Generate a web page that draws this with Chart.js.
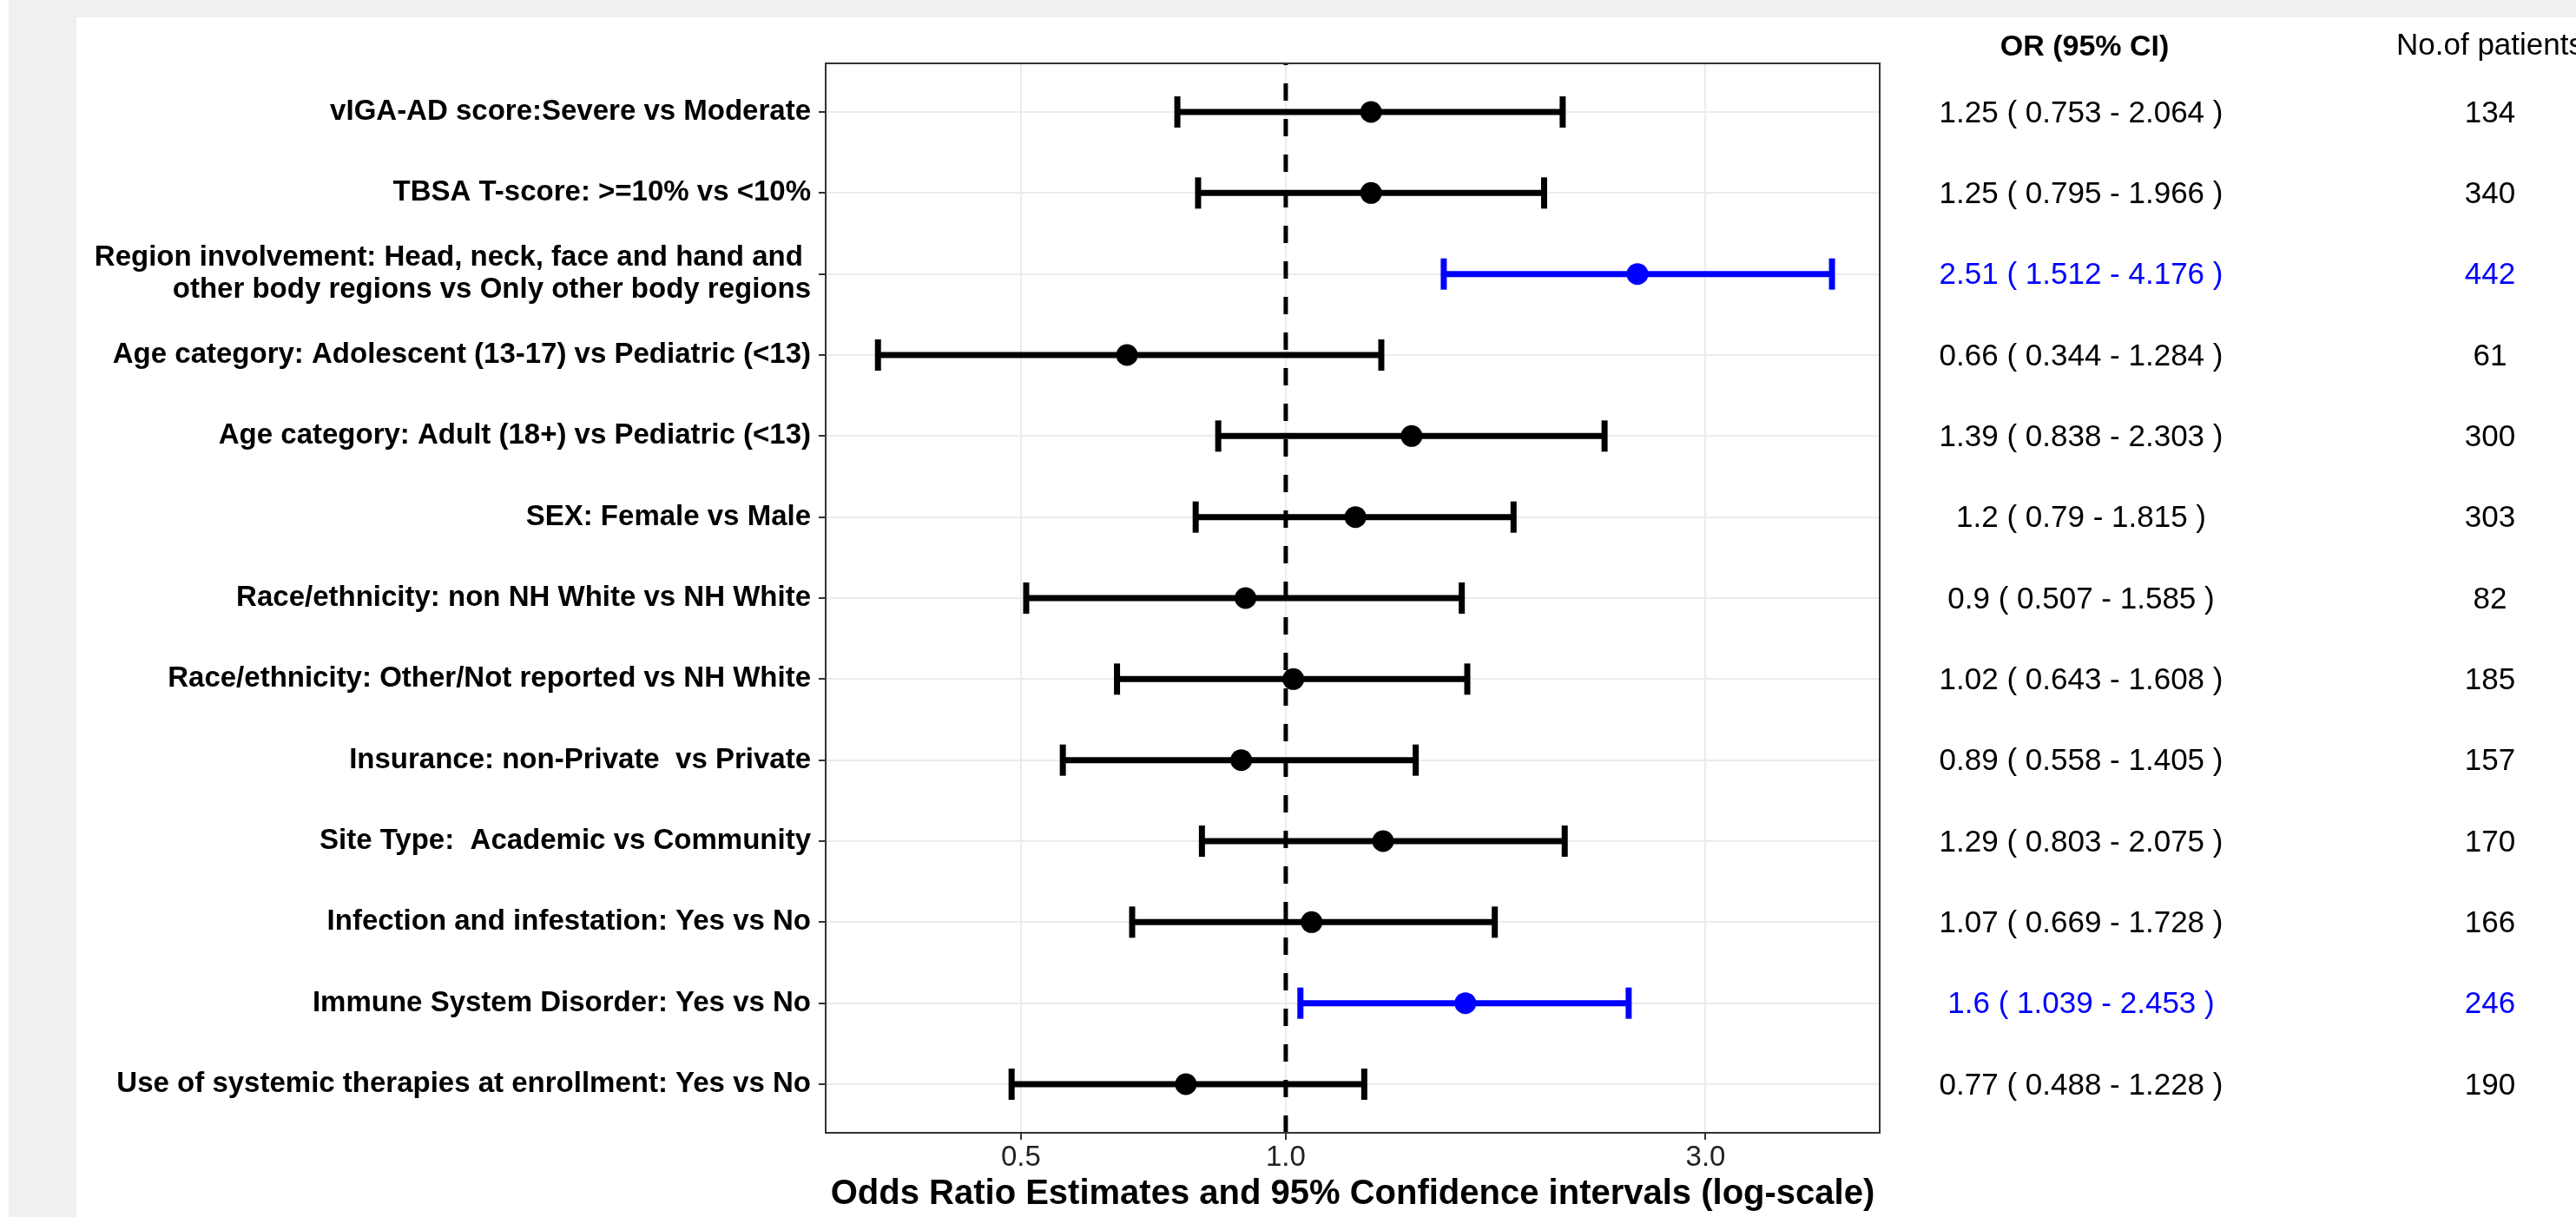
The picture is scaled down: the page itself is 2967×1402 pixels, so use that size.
<!DOCTYPE html>
<html>
<head>
<meta charset="utf-8">
<script src="https://cdn.jsdelivr.net/npm/chart.js@4"></script>
<style>
  html, body { margin: 0; padding: 0; background: #fff; }
  body { width: 2967px; height: 1402px; position: relative; overflow: hidden; }
  .backdrop { position: absolute; left: 10px; top: 0; right: 0; bottom: 0; background: #f0f0f0; }
  .card { position: absolute; left: 88px; top: 20px; width: 2879px; height: 1382px; background: #fff; }
  canvas { display: block; }
</style>
</head>
<body>
<div class="backdrop"></div>
<div class="card"><canvas id="forest" width="2879" height="1382"></canvas></div>
<script>
// rows, top to bottom
const labels = [
  'vIGA-AD score:Severe vs Moderate',
  'TBSA T-score: >=10% vs <10%',
  ['Region involvement: Head, neck, face and hand and ', 'other body regions vs Only other body regions'],
  'Age category: Adolescent (13-17) vs Pediatric (<13)',
  'Age category: Adult (18+) vs Pediatric (<13)',
  'SEX: Female vs Male',
  'Race/ethnicity: non NH White vs NH White',
  'Race/ethnicity: Other/Not reported vs NH White',
  'Insurance: non-Private  vs Private',
  'Site Type:  Academic vs Community',
  'Infection and infestation: Yes vs No',
  'Immune System Disorder: Yes vs No',
  'Use of systemic therapies at enrollment: Yes vs No'
];
const oddsRatios = [1.25, 1.25, 2.51, 0.66, 1.39, 1.2, 0.9, 1.02, 0.89, 1.29, 1.07, 1.6, 0.77];
const lowerCI    = [0.753, 0.795, 1.512, 0.344, 0.838, 0.79, 0.507, 0.643, 0.558, 0.803, 0.669, 1.039, 0.488];
const upperCI    = [2.064, 1.966, 4.176, 1.284, 2.303, 1.815, 1.585, 1.608, 1.405, 2.075, 1.728, 2.453, 1.228];
const patients   = [134, 340, 442, 61, 300, 303, 82, 185, 157, 170, 166, 246, 190];
const significant = [false, false, true, false, false, false, false, false, false, false, false, true, false];
const xTickValues = [0.5, 1, 3];
const refOR = 1;

const FONT = '"Liberation Sans", Arial, Helvetica, sans-serif';
const BLACK = '#000000';
const BLUE = '#0000ff';
const colorOf = i => significant[i] ? BLUE : BLACK;

// ggplot-like 5% expansion of the log range
const logMin = Math.log10(Math.min(...lowerCI));
const logMax = Math.log10(Math.max(...upperCI));
const pad = (logMax - logMin) * 0.05;
const xMin = Math.pow(10, logMin - pad);
const xMax = Math.pow(10, logMax + pad);
const yMin = -0.6;
const yMax = labels.length - 1 + 0.6;

const datasets = [];

// estimate points
datasets.push({
  type: 'scatter',
  order: 0,
  data: oddsRatios.map((v, i) => ({ x: v, y: i })),
  pointRadius: 12.5,
  pointHoverRadius: 12.5,
  pointBorderWidth: 0,
  pointBackgroundColor: oddsRatios.map((_, i) => colorOf(i)),
  pointBorderColor: oddsRatios.map((_, i) => colorOf(i))
});

// confidence interval bars with caps
labels.forEach((_, i) => {
  datasets.push({
    type: 'line',
    order: 1,
    data: [{ x: lowerCI[i], y: i }, { x: upperCI[i], y: i }],
    borderColor: colorOf(i),
    borderWidth: 7,
    pointStyle: 'line',
    pointRotation: 90,
    pointRadius: 18,
    pointHoverRadius: 18,
    pointBorderWidth: 7,
    pointBorderColor: colorOf(i),
    tension: 0
  });
});

// dashed reference line at OR = 1 (drawn from bottom to top)
datasets.push({
  type: 'line',
  order: 2,
  data: [{ x: refOR, y: yMax }, { x: refOR, y: yMin }],
  borderColor: BLACK,
  borderWidth: 5,
  borderDash: [20, 21],
  pointRadius: 0,
  pointHoverRadius: 0
});

const tablePlugin = {
  id: 'tableColumns',
  afterDatasetsDraw(chart) {
    const { ctx, chartArea: a, scales: { y } } = chart;
    ctx.save();
    // panel border
    ctx.strokeStyle = '#333333';
    ctx.lineWidth = 2;
    ctx.strokeRect(a.left, a.top, a.right - a.left, a.bottom - a.top);

    const orX = a.right + 232;
    const nX = a.right + 703;
    ctx.textAlign = 'center';
    ctx.textBaseline = 'middle';

    ctx.fillStyle = BLACK;
    ctx.font = 'bold 34px ' + FONT;
    ctx.fillText('OR (95% CI)', orX + 4, 35);
    ctx.font = '35px ' + FONT;
    ctx.fillText('No.of patients', nX, 33);

    ctx.font = '35px ' + FONT;
    labels.forEach((_, i) => {
      const py = y.getPixelForValue(i) + 2;
      ctx.fillStyle = colorOf(i);
      ctx.fillText(`${oddsRatios[i]} ( ${lowerCI[i]} - ${upperCI[i]} )`, orX, py);
      ctx.fillText(String(patients[i]), nX, py);
    });
    ctx.restore();
  }
};

new Chart(document.getElementById('forest'), {
  data: { datasets },
  plugins: [tablePlugin],
  options: {
    responsive: false,
    animation: false,
    devicePixelRatio: 1,
    layout: { padding: { top: 53, right: 802, left: 0, bottom: 0 } },
    plugins: { legend: { display: false }, tooltip: { enabled: false } },
    scales: {
      x: {
        type: 'logarithmic',
        position: 'bottom',
        min: xMin,
        max: xMax,
        afterBuildTicks: scale => { scale.ticks = xTickValues.map(v => ({ value: v })); },
        afterFit: scale => { scale.height = 97; },
        ticks: {
          autoSkip: false,
          maxRotation: 0,
          padding: 1,
          color: '#222222',
          font: { family: FONT, size: 33 },
          callback: v => Number(v).toFixed(1)
        },
        grid: { color: '#ebebeb', lineWidth: 2, tickLength: 8, tickColor: '#333333', tickWidth: 2 },
        border: { display: false },
        title: {
          display: true,
          text: 'Odds Ratio Estimates and 95% Confidence intervals (log-scale)',
          color: BLACK,
          font: { family: FONT, size: 40, weight: 'bold' },
          padding: { top: 0, bottom: 2 }
        }
      },
      y: {
        type: 'linear',
        reverse: true,
        min: yMin,
        max: yMax,
        afterBuildTicks: scale => { scale.ticks = labels.map((_, i) => ({ value: i })); },
        afterFit: scale => { scale.width = 863; },
        ticks: {
          autoSkip: false,
          padding: 9,
          color: BLACK,
          font: { family: FONT, size: 33, weight: 'bold', lineHeight: 1.12 },
          callback: (v, idx) => labels[idx]
        },
        grid: { color: '#ebebeb', lineWidth: 2, tickLength: 8, tickColor: '#333333', tickWidth: 2 },
        border: { display: false }
      }
    }
  }
});
</script>
</body>
</html>
